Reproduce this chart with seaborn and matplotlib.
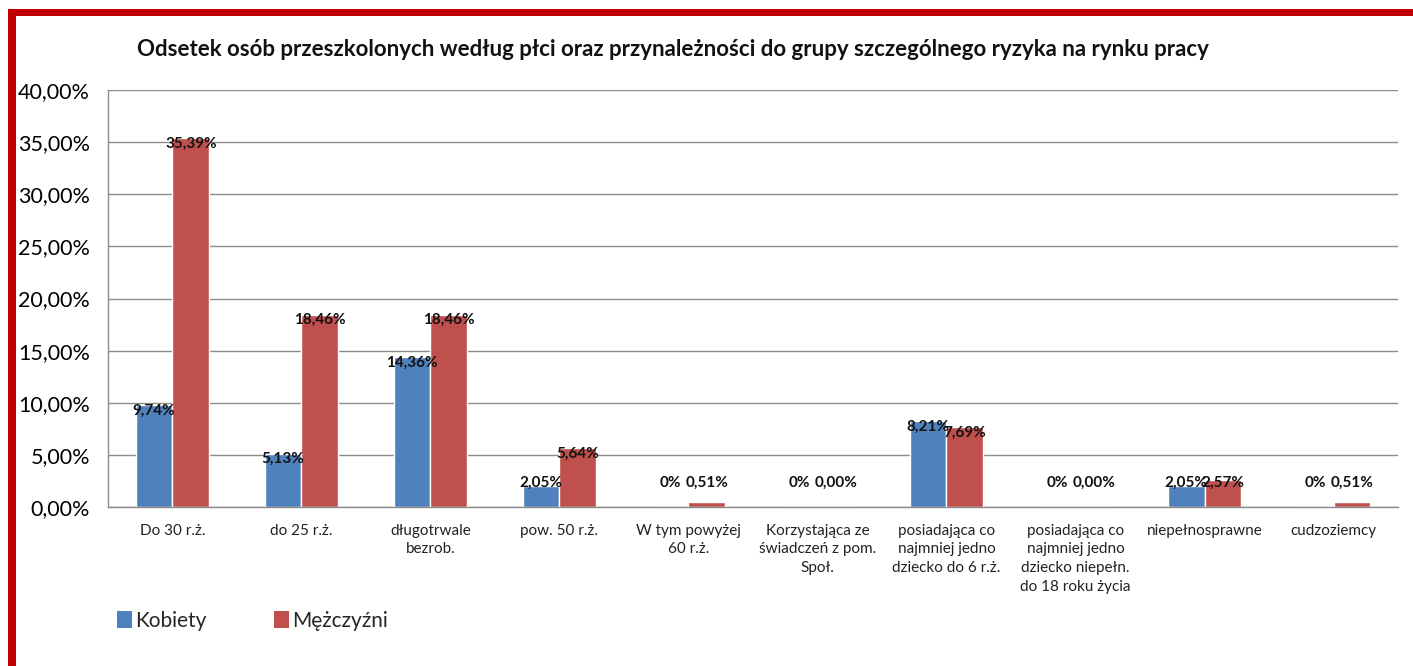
import pandas as pd
import matplotlib
matplotlib.use('Agg')
import matplotlib.pyplot as plt
import seaborn as sns
from matplotlib.patches import Rectangle, Patch
from matplotlib.ticker import FuncFormatter, FixedLocator

categories = ['Do 30 r.ż.', 'do 25 r.ż.', 'długotrwale\nbezrob.', 'pow. 50 r.ż.',
              'W tym powyżej\n60 r.ż.', 'Korzystająca ze\nświadczeń z pom.\nSpoł.',
              'posiadająca co\nnajmniej jedno\ndziecko do 6 r.ż.',
              'posiadająca co\nnajmniej jedno\ndziecko niepełn.\ndo 18 roku życia',
              'niepełnosprawne', 'cudzoziemcy']
kobiety = [9.74, 5.13, 14.36, 2.05, 0, 0, 8.21, 0, 2.05, 0]
mezczyzni = [35.39, 18.46, 18.46, 5.64, 0.51, 0.00, 7.69, 0.00, 2.57, 0.51]
series = ['Kobiety', 'Mężczyźni']
colors = {'Kobiety': '#4F81BD', 'Mężczyźni': '#C0504D'}
y_ticks = [0, 5, 10, 15, 20, 25, 30, 35, 40]
title = 'Odsetek osób przeszkolonych według płci oraz przynależności do grupy szczególnego ryzyka na rynku pracy'

df = pd.DataFrame({
    'kategoria': categories * 2,
    'seria': [series[0]] * len(categories) + [series[1]] * len(categories),
    'wartosc': kobiety + mezczyzni,
})

sns.set_style('white')
plt.rcParams['font.family'] = ['Lato', 'DejaVu Sans']

fig = plt.figure(figsize=(14.13, 6.66), dpi=100)
ax = fig.add_axes([0.0764, 0.2387, 0.9130, 0.6262])

sns.barplot(data=df, x='kategoria', y='wartosc', hue='seria', palette=colors,
            order=categories, hue_order=series, width=0.57, saturation=1,
            ax=ax, legend=False)

ax.set_ylim(0, 40)
ax.set_xlim(-0.5, len(categories) - 0.5)
ax.yaxis.set_major_locator(FixedLocator(y_ticks))
ax.yaxis.set_major_formatter(FuncFormatter(lambda v, p: f'{v:.2f}'.replace('.', ',') + '%'))
ax.tick_params(axis='y', labelsize=15.5, colors='#000000', length=6, width=1, color='#8c8c8c', pad=7)
ax.grid(axis='y', color='#8c8c8c', linewidth=1)
ax.set_axisbelow(True)

# category boundaries as tick marks, labels at centres
ax.set_xticks([i - 0.5 for i in range(len(categories) + 1)])
ax.set_xticklabels([])
ax.set_xticks(range(len(categories)), minor=True)
ax.set_xticklabels(categories, minor=True, fontsize=11, color='#222222', linespacing=1.42)
ax.tick_params(axis='x', which='major', length=7, color='#8c8c8c', width=1)
ax.tick_params(axis='x', which='minor', length=0, pad=12)
for lbl in ax.get_xticklabels(minor=True):
    lbl.set_verticalalignment('top')

for s in ['top', 'right']:
    ax.spines[s].set_visible(False)
for s in ['left', 'bottom']:
    ax.spines[s].set_color('#8c8c8c')
    ax.spines[s].set_linewidth(1)
ax.set_xlabel('')
ax.set_ylabel('')

# data labels
for container, name, vals in zip(ax.containers, series, [kobiety, mezczyzni]):
    for bar, v in zip(container, vals):
        if name == 'Kobiety' and v == 0:
            txt = '0%'
        else:
            txt = f'{v:.2f}'.replace('.', ',') + '%'
        ypos = max(v - 0.55, 2.3)
        ax.text(bar.get_x() + bar.get_width() / 2, ypos, txt, ha='center', va='center',
                fontsize=11, fontweight='bold', color='#111111')

fig.text(0.476, 0.925, title, ha='center', va='center', fontsize=16, fontweight='bold', color='#111111')

handles = [Patch(facecolor=colors[s], edgecolor='none') for s in series]
fig.legend(handles, series, loc='center left', bbox_to_anchor=(0.077, 1 - 621 / 666), ncol=2,
           frameon=False, fontsize=15, handlelength=0.7, handleheight=0.9, handletextpad=0.15,
           columnspacing=3.25, borderaxespad=0)

# red frame on top and left
fig.add_artist(Rectangle((8 / 1413, 1 - 16 / 666), 1 - 8 / 1413, 7 / 666, transform=fig.transFigure,
                         facecolor='#C00000', edgecolor='none'))
fig.add_artist(Rectangle((8 / 1413, 0), 8 / 1413, 1 - 9 / 666, transform=fig.transFigure,
                         facecolor='#C00000', edgecolor='none'))

fig.savefig('out.png', dpi=100)
